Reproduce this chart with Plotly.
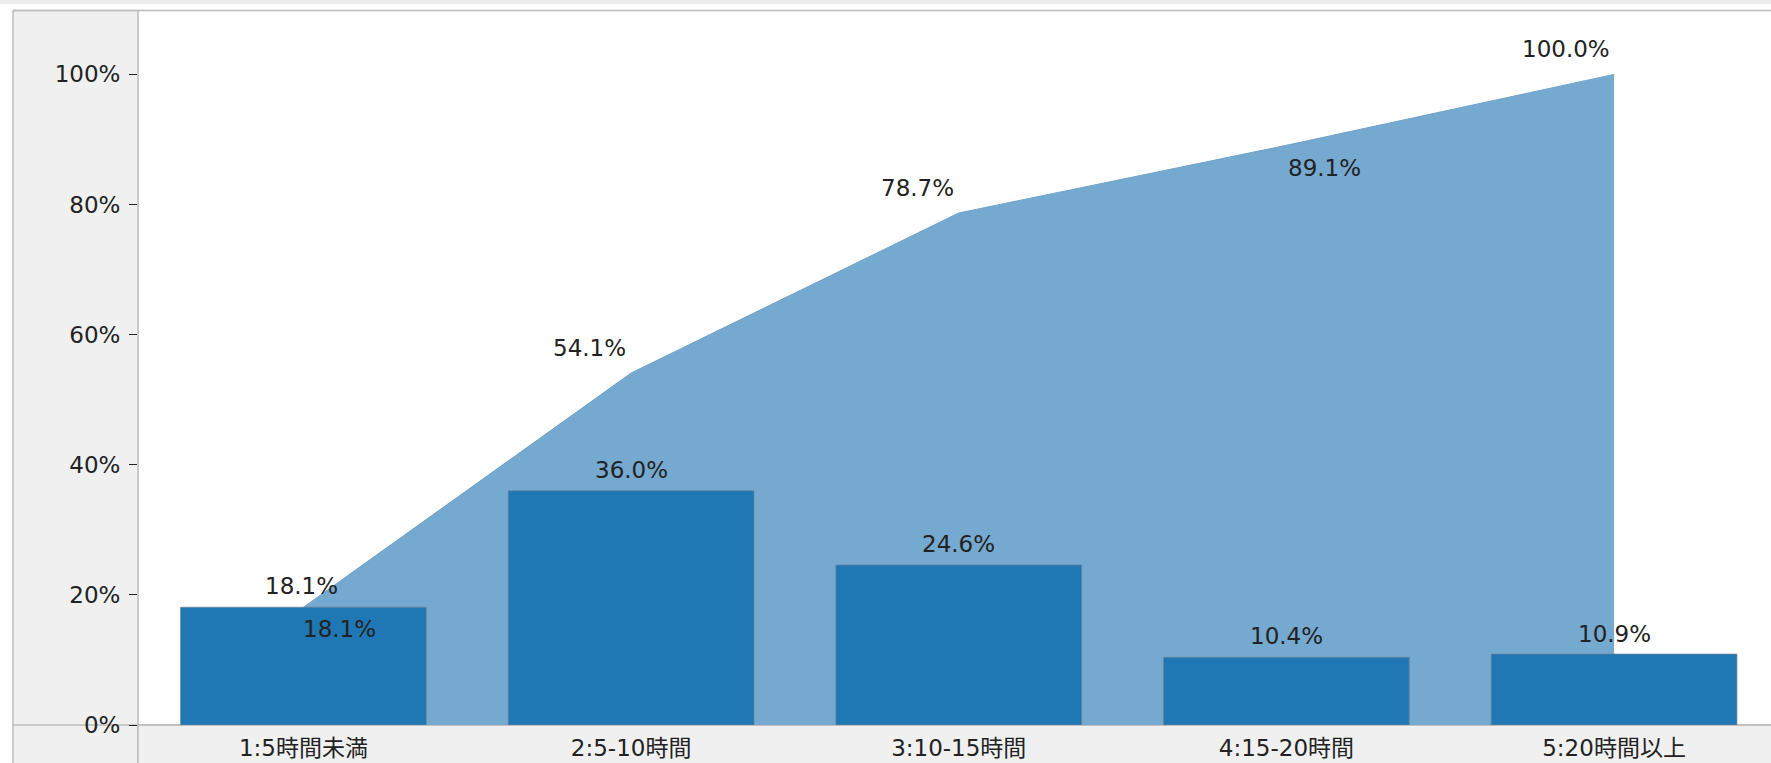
import plotly.graph_objects as go

# ---- data ----
categories = ["1:5時間未満", "2:5-10時間", "3:10-15時間", "4:15-20時間", "5:20時間以上"]
share_pct = [18.1, 36.0, 24.6, 10.4, 10.9]
cumulative_pct = [18.1, 54.1, 78.7, 89.1, 100.0]
y_tick_vals = [0, 20, 40, 60, 80, 100]
y_tick_text = ["0%", "20%", "40%", "60%", "80%", "100%"]

# ---- style ----
W, H = 1771, 763
ML, MR, MT, MB = 138, 0, 10, 38
PW, PH = W - ML - MR, H - MT - MB
FONT = "DejaVu Sans, Noto Sans CJK JP, sans-serif"
TXT = "#222222"
BAR_COLOR = "#1f77b4"
AREA_COLOR = "#75a9cf"
PANEL = "#f0f0f0"
BORDER = "#bcbcbc"
X_RANGE = [-0.505, 4.479]
Y_RANGE = [0, 109.9]

# label placement (pixel offsets relative to the data point)
area_lbl_style = [("center", -2, 21), ("right", -3, 25), ("right", -3, 25),
                  ("left", 0, -23), ("right", -2, 25)]
bar_lbl_style = [("left", -2, -22), ("center", 0, 21), ("center", 0, 21),
                 ("center", 0, 21), ("center", 0, 20)]

fig = go.Figure()

# cumulative area (drawn on base axes, beneath bars)
fig.add_trace(go.Scatter(
    x=categories, y=cumulative_pct, mode="lines",
    fill="tozeroy", fillcolor=AREA_COLOR,
    line=dict(color="#6fa4cc", width=1),
    hoverinfo="skip", showlegend=False,
    xaxis="x", yaxis="y",
))

# bars on overlaying axes so they sit above the area
fig.add_trace(go.Bar(
    x=categories, y=share_pct, width=0.75,
    marker=dict(color=BAR_COLOR, line=dict(color="rgba(110,130,150,0.7)", width=1)),
    hoverinfo="skip", showlegend=False,
    xaxis="x2", yaxis="y2",
))

annotations = []
for c, v, (anc, dx, dy) in zip(categories, cumulative_pct, area_lbl_style):
    annotations.append(dict(x=c, y=v, xref="x", yref="y", text=f"{v:.1f}%",
                            showarrow=False, xanchor=anc, yanchor="middle",
                            xshift=dx, yshift=dy, font=dict(family=FONT, size=23, color=TXT)))
for c, v, (anc, dx, dy) in zip(categories, share_pct, bar_lbl_style):
    annotations.append(dict(x=c, y=v, xref="x", yref="y", text=f"{v:.1f}%",
                            showarrow=False, xanchor=anc, yanchor="middle",
                            xshift=dx, yshift=dy, font=dict(family=FONT, size=23, color=TXT)))


def px_x(p):
    return (p - ML) / PW


def px_y(p):
    return (H - MB - p) / PH


shapes = [
    # top thin strip
    dict(type="rect", xref="paper", yref="paper", x0=px_x(0), x1=px_x(W + 5),
         y0=px_y(4), y1=px_y(0), fillcolor="#ececee", line=dict(width=0), layer="below"),
    # left y-axis panel
    dict(type="rect", xref="paper", yref="paper", x0=px_x(13), x1=px_x(ML),
         y0=px_y(H + 5), y1=px_y(10.5), fillcolor=PANEL,
         line=dict(color=BORDER, width=1.5), layer="below"),
    # bottom x-axis panel
    dict(type="rect", xref="paper", yref="paper", x0=px_x(ML), x1=px_x(W + 5),
         y0=px_y(H + 5), y1=px_y(H - MB), fillcolor=PANEL,
         line=dict(color=BORDER, width=1.5), layer="below"),
    # corner horizontal divider
    dict(type="line", xref="paper", yref="paper", x0=px_x(13), x1=px_x(W + 5),
         y0=px_y(H - MB), y1=px_y(H - MB), line=dict(color=BORDER, width=1.5), layer="below"),
    # top border line
    dict(type="line", xref="paper", yref="paper", x0=px_x(13), x1=px_x(W + 5),
         y0=px_y(10.5), y1=px_y(10.5), line=dict(color=BORDER, width=1.5), layer="below"),
]

fig.update_layout(
    width=W, height=H,
    margin=dict(l=ML, r=MR, t=MT, b=MB, pad=0),
    paper_bgcolor="white", plot_bgcolor="white",
    font=dict(family=FONT, size=23, color=TXT),
    showlegend=False,
    xaxis=dict(type="category", categoryorder="array", categoryarray=categories,
               range=X_RANGE, showgrid=False, zeroline=False, showline=False,
               ticks="", tickfont=dict(family=FONT, size=23, color=TXT),
               ticklabelstandoff=7, automargin=False, fixedrange=True),
    yaxis=dict(range=Y_RANGE, tickvals=y_tick_vals, ticktext=y_tick_text,
               showgrid=False, zeroline=False, showline=False,
               ticks="outside", ticklen=8, tickwidth=1, tickcolor="#222222",
               tickfont=dict(family=FONT, size=23, color=TXT),
               ticklabelstandoff=4, automargin=False, fixedrange=True),
    xaxis2=dict(type="category", categoryorder="array", categoryarray=categories,
                range=X_RANGE, overlaying="x", visible=False, fixedrange=True),
    yaxis2=dict(range=Y_RANGE, overlaying="y", visible=False, fixedrange=True),
    shapes=shapes,
    annotations=annotations,
)

fig.write_html(
    "out.html",
    config={"displayModeBar": False},
    post_script="document.body.style.margin='0';document.body.style.overflow='hidden';",
)
